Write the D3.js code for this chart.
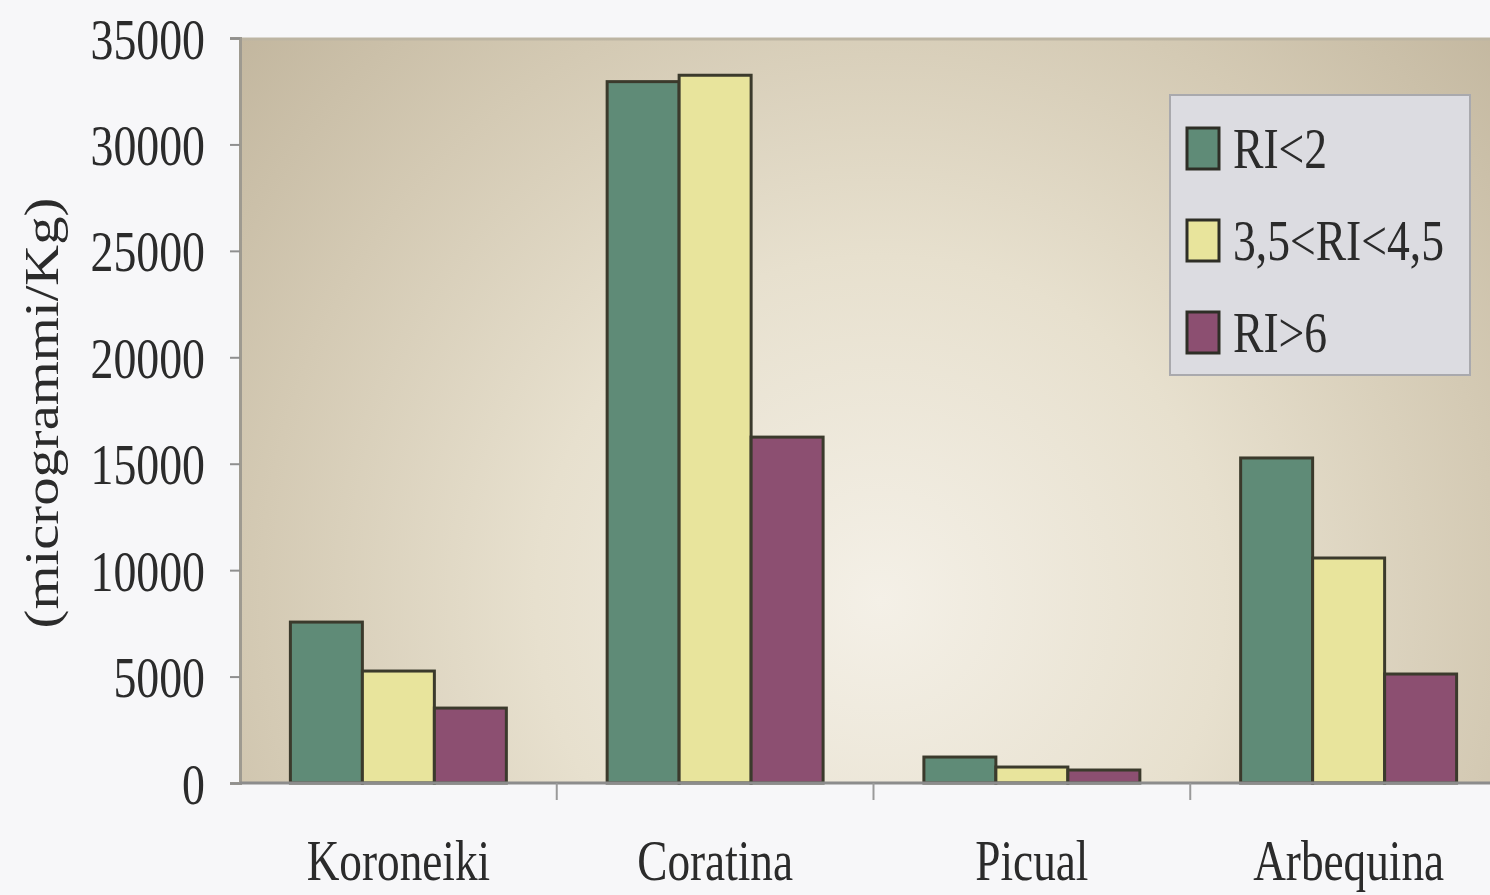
<!DOCTYPE html>
<html>
<head>
<meta charset="utf-8">
<script src="https://cdn.jsdelivr.net/npm/d3@7"></script>
<style>
  html, body { margin: 0; padding: 0; background: #f7f7f9; }
  svg { display: block; }
  text { font-family: "Liberation Serif", "Times New Roman", serif; fill: #2b2b2b; }
</style>
</head>
<body>
<svg id="chart" width="1490" height="895"></svg>
<script>
// ---- data ----
const categories = ["Koroneiki", "Coratina", "Picual", "Arbequina"];
const seriesNames = ["RI<2", "3,5<RI<4,5", "RI>6"];
const riLow  = [7560, 32950, 1220, 15270];
const riMid  = [5260, 33250, 750, 10570];
const riHigh = [3520, 16250, 610, 5120];
const yTickValues = [0, 5000, 10000, 15000, 20000, 25000, 30000, 35000];
const yLabel = "(microgrammi/Kg)";
const seriesColors = ["#5f8b77", "#e8e49c", "#8c4f71"];

// ---- layout ----
const W = 1490, H = 895;
const plot = { left: 240, top: 38, right: 1507, bottom: 783 };
const sx = 0.79; // horizontal text compression

const svg = d3.select("#chart");
const values = [riLow, riMid, riHigh];

const x0 = d3.scaleBand().domain(categories).range([plot.left, plot.right]).paddingInner(0).paddingOuter(0);
const x1 = d3.scaleBand().domain(seriesNames).range([0, x0.bandwidth()]).paddingInner(0).paddingOuter(0.7);
const y = d3.scaleLinear().domain([0, 35000]).range([plot.bottom, plot.top]);

// background gradient
const defs = svg.append("defs");
const grad = defs.append("radialGradient").attr("id", "bg")
  .attr("gradientUnits", "userSpaceOnUse")
  .attr("cx", 880).attr("cy", 600).attr("r", 860);
[[0, "#f4f0e7"], [0.4, "#e7e0ce"], [0.72, "#d4cab4"], [1, "#c2b69e"]].forEach(([o, c]) =>
  grad.append("stop").attr("offset", o).attr("stop-color", c));

svg.append("rect")
  .attr("x", plot.left).attr("y", plot.top)
  .attr("width", plot.right - plot.left).attr("height", plot.bottom - plot.top)
  .attr("fill", "url(#bg)");

// top edge shade
svg.append("line").attr("x1", plot.left).attr("x2", plot.right)
  .attr("y1", plot.top + 1).attr("y2", plot.top + 1)
  .attr("stroke", "#bdb5a3").attr("stroke-width", 3);

// bars
const groups = svg.append("g").selectAll("g")
  .data(categories)
  .join("g")
  .attr("transform", d => `translate(${x0(d)},0)`);

groups.selectAll("rect")
  .data((d, i) => seriesNames.map((s, j) => ({ s, j, v: values[j][i] })))
  .join("rect")
  .attr("x", d => x1(d.s))
  .attr("width", x1.bandwidth())
  .attr("y", d => y(d.v))
  .attr("height", d => y(0) - y(d.v))
  .attr("fill", d => seriesColors[d.j])
  .attr("stroke", "#3b3a2c")
  .attr("stroke-width", 3);

// y axis
const yAxis = svg.append("g")
  .attr("transform", `translate(${plot.left},0)`)
  .call(d3.axisLeft(y).tickValues(yTickValues).tickSize(10).tickFormat(d3.format("d")));
yAxis.select(".domain").attr("stroke", "#9e9a90").attr("stroke-width", 3);
yAxis.selectAll(".tick line").attr("stroke", "#8f8f8f").attr("stroke-width", 2);
yAxis.selectAll(".tick text")
  .attr("x", 0).attr("dy", null).attr("y", 0)
  .attr("font-size", 58)
  .attr("transform", `translate(-35,20) scale(${sx},1)`)
  .style("font-family", "'Liberation Serif', serif")
  .attr("fill", "#2b2b2b");

// x axis baseline
svg.append("line")
  .attr("x1", plot.left).attr("x2", plot.right)
  .attr("y1", y(0)).attr("y2", y(0))
  .attr("stroke", "#8c8c8c").attr("stroke-width", 3);

// category boundary ticks
svg.append("g").selectAll("line")
  .data(categories.slice(1))
  .join("line")
  .attr("x1", d => x0(d)).attr("x2", d => x0(d))
  .attr("y1", y(0)).attr("y2", y(0) + 17)
  .attr("stroke", "#9a9a9a").attr("stroke-width", 2);

// category labels
svg.append("g").selectAll("text")
  .data(categories)
  .join("text")
  .attr("transform", d => `translate(${x0(d) + x0.bandwidth() / 2},880) scale(0.78,1)`)
  .attr("text-anchor", "middle")
  .attr("font-size", 58)
  .text(d => d);

// y label
svg.append("text")
  .attr("transform", `translate(58,413) rotate(-90) scale(1.18,1)`)
  .attr("text-anchor", "middle")
  .attr("font-size", 48)
  .text(yLabel);

// legend
const lg = svg.append("g");
lg.append("rect")
  .attr("x", 1170).attr("y", 95).attr("width", 300).attr("height", 280)
  .attr("fill", "#dcdce1").attr("stroke", "#a9a9ad").attr("stroke-width", 2);

const rows = lg.selectAll("g.row")
  .data(seriesNames)
  .join("g")
  .attr("class", "row")
  .attr("transform", (d, i) => `translate(1187,${128 + i * 92})`);
rows.append("rect")
  .attr("width", 32).attr("height", 41)
  .attr("fill", (d, i) => seriesColors[i])
  .attr("stroke", "#2e2e26").attr("stroke-width", 3);
rows.append("text")
  .attr("transform", `translate(46,40) scale(0.8,1)`)
  .attr("font-size", 57)
  .text(d => d);
</script>
</body>
</html>
